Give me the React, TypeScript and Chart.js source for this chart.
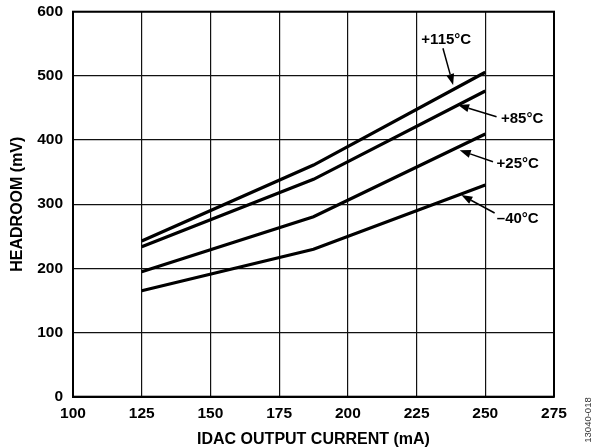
import { useEffect, useRef } from "react";
import { Chart, registerables } from "chart.js";

Chart.register(...registerables);

// IDAC output current (mA)
const currents = [125, 187.5, 250];
// Headroom (mV) per temperature
const headroom115 = [242.6, 361, 505.6];
const headroom85 = [233.8, 338.8, 476.4];
const headroom25 = [194.8, 280.5, 409.4];
const headroomM40 = [165.2, 229.7, 329.9];

const seriesLabels = ["+115°C", "+85°C", "+25°C", "–40°C"];
const xTicks = [100, 125, 150, 175, 200, 225, 250, 275];
const yTicks = [0, 100, 200, 300, 400, 500, 600];

// Callout annotations (in data coordinates)
const calloutTextX = [235.8, 263.4, 261.8, 261.8];
const calloutTextY = [555.9, 432.8, 362.6, 276.9];
const calloutFromX = [234.6, 254.1, 252.8, 253.4];
const calloutFromY = [543.0, 436.4, 366.2, 286.3];
const calloutToX = [238.3, 240.1, 240.7, 241.3];
const calloutToY = [485.8, 454.6, 384.0, 314.3];

const figureId = "13040-018";
const FONT = '"Liberation Sans", Arial, Helvetica, sans-serif';

const seriesValues = [headroom115, headroom85, headroom25, headroomM40];

export default function App() {
  const canvasRef = useRef<HTMLCanvasElement | null>(null);

  useEffect(() => {
    const canvas = canvasRef.current;
    if (!canvas) return;

    const annotationPlugin = {
      id: "annotations",
      afterDraw(chart: any) {
        const { ctx, chartArea, scales } = chart;
        const xs = scales.x;
        const ys = scales.y;
        ctx.save();
        // frame
        ctx.strokeStyle = "#000";
        ctx.lineWidth = 2;
        ctx.strokeRect(chartArea.left, chartArea.top, chartArea.right - chartArea.left, chartArea.bottom - chartArea.top);

        // callouts
        ctx.fillStyle = "#000";
        ctx.font = `bold 15px ${FONT}`;
        ctx.textAlign = "center";
        ctx.textBaseline = "middle";
        for (let i = 0; i < seriesLabels.length; i++) {
          const tx = xs.getPixelForValue(calloutTextX[i]);
          const ty = ys.getPixelForValue(calloutTextY[i]);
          ctx.fillText(seriesLabels[i], tx, ty);
          const fx = xs.getPixelForValue(calloutFromX[i]);
          const fy = ys.getPixelForValue(calloutFromY[i]);
          const ex = xs.getPixelForValue(calloutToX[i]);
          const ey = ys.getPixelForValue(calloutToY[i]);
          const ang = Math.atan2(ey - fy, ex - fx);
          const headLen = 11;
          const headW = 4;
          const bx = ex - headLen * Math.cos(ang);
          const by = ey - headLen * Math.sin(ang);
          ctx.strokeStyle = "#000";
          ctx.lineWidth = 1.5;
          ctx.beginPath();
          ctx.moveTo(fx, fy);
          ctx.lineTo(bx, by);
          ctx.stroke();
          ctx.beginPath();
          ctx.moveTo(ex, ey);
          ctx.lineTo(bx + headW * Math.sin(ang), by - headW * Math.cos(ang));
          ctx.lineTo(bx - headW * Math.sin(ang), by + headW * Math.cos(ang));
          ctx.closePath();
          ctx.fill();
        }

        // figure id
        ctx.translate(chart.width - 4, chart.height - 28);
        ctx.rotate(-Math.PI / 2);
        ctx.font = `9.5px ${FONT}`;
        ctx.fillStyle = "#333";
        ctx.textAlign = "center";
        ctx.textBaseline = "middle";
        ctx.fillText(figureId, 0, 0);
        ctx.restore();
      },
    };

    const chart = new Chart(canvas, {
      type: "line",
      data: {
        datasets: seriesValues.map((vals, i) => ({
          label: seriesLabels[i],
          data: currents.map((c, j) => ({ x: c, y: vals[j] })),
          borderColor: "#000",
          backgroundColor: "#000",
          borderWidth: 3.2,
          pointRadius: 0,
          tension: 0,
          fill: false,
        })),
      },
      options: {
        responsive: false,
        animation: false,
        events: [],
        layout: { padding: { top: 11.7, right: 38, left: 0, bottom: 0 } },
        plugins: {
          legend: { display: false },
          tooltip: { enabled: false },
        },
        scales: {
          x: {
            type: "linear",
            min: 100,
            max: 275,
            afterBuildTicks: (scale: any) => {
              scale.ticks = xTicks.map((v) => ({ value: v }));
            },
            afterFit: (scale: any) => {
              scale.height = 51.3;
            },
            grid: { color: "#111", lineWidth: 1.2, drawTicks: false },
            border: { display: true, color: "#000", width: 2 },
            ticks: {
              padding: 8,
              color: "#000",
              font: { family: FONT, size: 15.5, weight: "bold" },
              maxRotation: 0,
            },
            title: {
              display: true,
              text: "IDAC OUTPUT CURRENT (mA)",
              color: "#000",
              font: { family: FONT, size: 16, weight: "bold", lineHeight: 1 },
              padding: { top: 0, bottom: 0 },
            },
          },
          y: {
            type: "linear",
            min: 0,
            max: 600,
            afterBuildTicks: (scale: any) => {
              scale.ticks = yTicks.map((v) => ({ value: v }));
            },
            afterFit: (scale: any) => {
              scale.width = 73;
              scale.paddingTop = 0;
              scale.paddingBottom = 0;
            },
            grid: { color: "#111", lineWidth: 1.2, drawTicks: false },
            border: { display: true, color: "#000", width: 2 },
            ticks: {
              padding: 10,
              color: "#000",
              font: { family: FONT, size: 15.5, weight: "bold" },
            },
            title: {
              display: true,
              text: "HEADROOM (mV)",
              color: "#000",
              font: { family: FONT, size: 16, weight: "bold", lineHeight: 1 },
              padding: { top: 10, bottom: 0 },
            },
          },
        },
      },
      plugins: [annotationPlugin],
    });

    return () => {
      chart.destroy();
    };
  }, []);

  return (
    <div style={{ position: "fixed", left: 0, top: 0, width: 592, height: 448, background: "#fff" }}>
      <canvas ref={canvasRef} width={592} height={448} style={{ display: "block" }} />
    </div>
  );
}
